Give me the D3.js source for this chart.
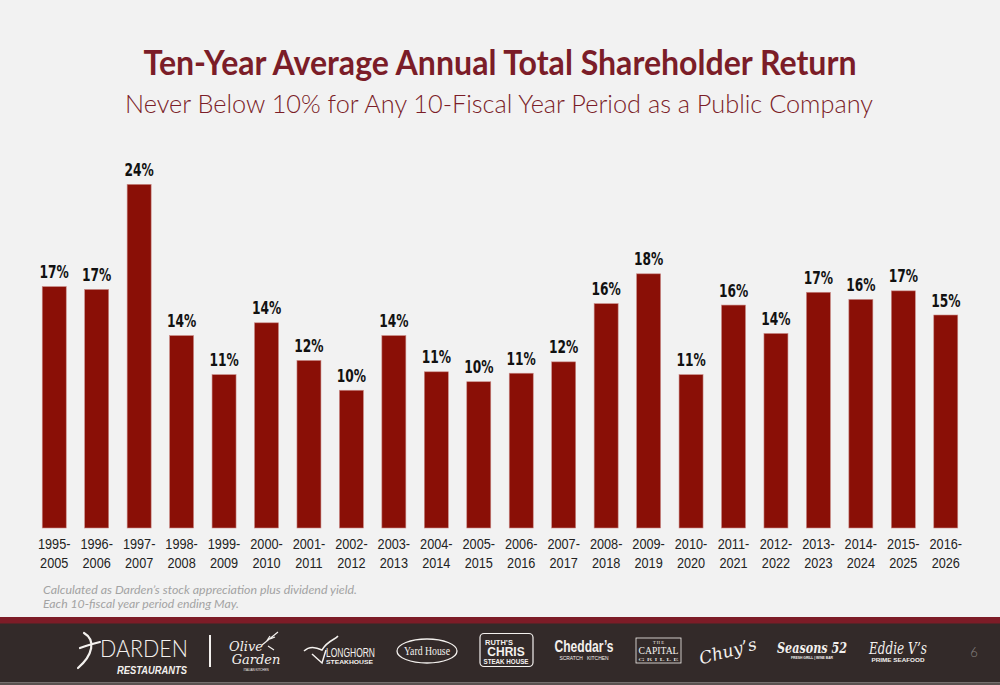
<!DOCTYPE html>
<html>
<head>
<meta charset="utf-8">
<script src="https://cdn.jsdelivr.net/npm/d3@7"></script>
<style>
  html, body { margin: 0; padding: 0; background: #f2f2f2; }
  svg { display: block; }
</style>
</head>
<body>
<svg id="chart" width="1000" height="685"></svg>
<script>
// ---- data ----
const periods = ["1995-2005","1996-2006","1997-2007","1998-2008","1999-2009","2000-2010","2001-2011","2002-2012","2003-2013","2004-2014","2005-2015","2006-2016","2007-2017","2008-2018","2009-2019","2010-2020","2011-2021","2012-2022","2013-2023","2014-2024","2015-2025","2016-2026"];
const returns = [17.0, 16.8, 24.2, 13.55, 10.8, 14.45, 11.8, 9.7, 13.55, 11.0, 10.3, 10.9, 11.7, 15.8, 17.9, 10.8, 15.7, 13.7, 16.6, 16.1, 16.7, 15.0];
const returnLabels = ["17%","17%","24%","14%","11%","14%","12%","10%","14%","11%","10%","11%","12%","16%","18%","11%","16%","14%","17%","16%","17%","15%"];
const titleText = "Ten-Year Average Annual Total Shareholder Return";
const subtitleText = "Never Below 10% for Any 10-Fiscal Year Period as a Public Company";
const footnotes = ["Calculated as Darden\u2019s stock appreciation plus dividend yield.", "Each 10-fiscal year period ending May."];

const W = 1000, H = 685;
const maroon = "#7b1d28";
const barColor = "#8a0f06";
const svg = d3.select("#chart");

svg.append("rect").attr("width", W).attr("height", H).attr("fill", "#f2f2f2");

// titles
svg.append("text").attr("x", 500).attr("y", 75).attr("text-anchor", "middle")
  .attr("font-family", "Lato, 'Open Sans', sans-serif").attr("font-weight", "bold")
  .attr("font-size", 34).attr("fill", maroon)
  .attr("textLength", 713).attr("lengthAdjust", "spacingAndGlyphs")
  .text(titleText);
svg.append("text").attr("x", 499).attr("y", 112.7).attr("text-anchor", "middle")
  .attr("font-family", "Lato, 'Open Sans', sans-serif").attr("font-weight", 300)
  .attr("font-size", 25).attr("fill", maroon)
  .attr("textLength", 748).attr("lengthAdjust", "spacingAndGlyphs")
  .text(subtitleText);

// scales
const x = d3.scaleBand().domain(periods).range([33, 967]).paddingInner(0.435).paddingOuter(0.2175);
const y = d3.scaleLinear().domain([0, 25]).range([528, 528 - 25 * 14.2]);

const data = periods.map((p, i) => ({ p, v: returns[i], l: returnLabels[i] }));

svg.append("g").selectAll("rect").data(data).join("rect")
  .attr("x", d => x(d.p)).attr("width", x.bandwidth())
  .attr("y", d => y(d.v)).attr("height", d => y(0) - y(d.v))
  .attr("fill", barColor).attr("stroke", "#c98a86").attr("stroke-width", 0.6);

svg.append("g").selectAll("text").data(data).join("text")
  .attr("transform", d => `translate(${x(d.p) + x.bandwidth() / 2},${y(d.v) - 8.5}) scale(0.8,1)`)
  .attr("text-anchor", "middle")
  .attr("font-family", "'Liberation Sans Narrow', 'DejaVu Sans Condensed', 'Liberation Sans', sans-serif")
  .attr("font-weight", "bold").attr("font-size", 17).attr("fill", "#111")
  .text(d => d.l);

// x axis
const xAxis = d3.axisBottom(x).tickSize(0).tickPadding(0).tickFormat(() => "");
const gx = svg.append("g").attr("transform", "translate(0,528)").call(xAxis);
gx.select(".domain").remove();
gx.selectAll(".tick text").remove();
gx.selectAll(".tick").each(function(d) {
  const parts = d.split("-");
  const t = d3.select(this).append("text")
    .attr("text-anchor", "middle").attr("fill", "#222")
    .attr("font-family", "'Liberation Sans', sans-serif")
    .attr("font-size", 15.5)
    .attr("transform", "scale(0.82,1)");
  t.append("tspan").attr("x", 0).attr("y", 21.3).text(parts[0] + "-");
  t.append("tspan").attr("x", 0).attr("y", 39.7).text(parts[1]);
});

// footnotes
svg.append("g").selectAll("text").data(footnotes).join("text")
  .attr("x", 43).attr("y", (d, i) => 594 + i * 14)
  .attr("font-family", "Lato, 'Open Sans', sans-serif").attr("font-style", "italic")
  .attr("font-size", 12).attr("fill", "#a3a3a3")
  .attr("textLength", (d, i) => i === 0 ? 314 : 196).attr("lengthAdjust", "spacingAndGlyphs")
  .text(d => d);

// footer
const footer = svg.append("g");
footer.append("rect").attr("x", 0).attr("y", 617).attr("width", W).attr("height", 7).attr("fill", "#7d1c27");
footer.append("rect").attr("x", 0).attr("y", 623.5).attr("width", W).attr("height", 59).attr("fill", "#332a29");
footer.append("rect").attr("x", 0).attr("y", 682.5).attr("width", W).attr("height", 3).attr("fill", "#5a5250");

const white = "#f4f1ee";
// Darden swoosh
footer.append("path").attr("d", "M84,633 C96,640 93,655 78,668 M80,648 C88,645 96,643 100,642")
  .attr("fill", "none").attr("stroke", white).attr("stroke-width", 2.2).attr("stroke-linecap", "round");
footer.append("text").attr("x", 100).attr("y", 657).attr("font-family", "Lato, sans-serif").attr("font-weight", 300)
  .attr("font-size", 24).attr("fill", white).attr("textLength", 88).attr("lengthAdjust", "spacingAndGlyphs").text("DARDEN");
footer.append("text").attr("x", 117).attr("y", 673.5).attr("font-family", "'Liberation Sans', sans-serif").attr("font-weight", "bold")
  .attr("font-style", "italic").attr("font-size", 10.5).attr("fill", white).attr("textLength", 70).attr("lengthAdjust", "spacingAndGlyphs").text("RESTAURANTS");
footer.append("line").attr("x1", 210).attr("x2", 210).attr("y1", 635).attr("y2", 667).attr("stroke", white).attr("stroke-width", 2);

// Olive Garden
footer.append("text").attr("x", 246).attr("y", 651).attr("text-anchor", "middle").attr("font-family", "'DejaVu Serif', serif")
  .attr("font-style", "italic").attr("font-size", 13).attr("fill", white).text("Olive");
footer.append("text").attr("x", 256).attr("y", 664).attr("text-anchor", "middle").attr("font-family", "'DejaVu Serif', serif")
  .attr("font-style", "italic").attr("font-size", 13).attr("fill", white).text("Garden");
footer.append("text").attr("x", 256).attr("y", 671).attr("text-anchor", "middle").attr("font-family", "sans-serif")
  .attr("font-size", 3).attr("fill", white).text("ITALIAN KITCHEN");
footer.append("path").attr("d", "M262,645 L278,632 M266,642 l4,-6 M270,639 l5,-2 M268,646 l6,4")
  .attr("fill", "none").attr("stroke", white).attr("stroke-width", 1.2);

// LongHorn
footer.append("path").attr("d", "M304,651 C310,645 318,648 322,650 C328,640 335,640 338,636 M312,654 L322,663 L326,650")
  .attr("fill", "none").attr("stroke", white).attr("stroke-width", 1.5);
footer.append("text").attr("x", 326).attr("y", 657).attr("font-family", "'Liberation Sans Narrow', 'Liberation Sans', sans-serif")
  .attr("font-size", 12).attr("fill", white).attr("textLength", 49).attr("lengthAdjust", "spacingAndGlyphs").text("LONGHORN");
footer.append("text").attr("x", 326).attr("y", 664).attr("font-family", "'Liberation Sans', sans-serif").attr("font-weight", "bold")
  .attr("font-size", 5.5).attr("fill", white).attr("textLength", 47).attr("lengthAdjust", "spacingAndGlyphs").text("STEAKHOUSE");

// Yard House
footer.append("ellipse").attr("cx", 427).attr("cy", 651).attr("rx", 30).attr("ry", 12)
  .attr("fill", "none").attr("stroke", white).attr("stroke-width", 1.3);
footer.append("text").attr("x", 427).attr("y", 655).attr("text-anchor", "middle").attr("font-family", "'Liberation Serif', serif")
  .attr("font-size", 12).attr("fill", white).attr("textLength", 46).attr("lengthAdjust", "spacingAndGlyphs").text("Yard House");

// Ruth's Chris
footer.append("rect").attr("x", 480).attr("y", 633.5).attr("width", 53).attr("height", 33).attr("rx", 4)
  .attr("fill", "none").attr("stroke", white).attr("stroke-width", 1.2);
footer.append("text").attr("x", 485).attr("y", 645).attr("font-family", "'Liberation Sans', sans-serif").attr("font-weight", "bold")
  .attr("font-size", 7.5).attr("fill", white).text("RUTH\u2019S");
footer.append("text").attr("x", 506).attr("y", 656).attr("text-anchor", "middle").attr("font-family", "'Liberation Sans', sans-serif").attr("font-weight", "bold")
  .attr("font-size", 12).attr("fill", white).text("CHRIS");
footer.append("text").attr("x", 506).attr("y", 664).attr("text-anchor", "middle").attr("font-family", "'Liberation Sans', sans-serif").attr("font-weight", "bold")
  .attr("font-size", 7).attr("fill", white).attr("textLength", 45).attr("lengthAdjust", "spacingAndGlyphs").text("STEAK HOUSE");

// Cheddar's
footer.append("text").attr("x", 584).attr("y", 652).attr("text-anchor", "middle").attr("font-family", "'Liberation Sans', sans-serif").attr("font-weight", "bold")
  .attr("font-size", 17).attr("fill", white).attr("textLength", 59).attr("lengthAdjust", "spacingAndGlyphs").text("Cheddar\u2019s");
footer.append("text").attr("x", 584).attr("y", 659.5).attr("text-anchor", "middle").attr("font-family", "'Liberation Sans Narrow', sans-serif")
  .attr("font-size", 5).attr("fill", white).attr("textLength", 49).attr("lengthAdjust", "spacingAndGlyphs").text("SCRATCH \u00a0 KITCHEN");

// Capital Grille
footer.append("rect").attr("x", 636).attr("y", 638).attr("width", 45).attr("height", 25)
  .attr("fill", "none").attr("stroke", white).attr("stroke-width", 0.8);
footer.append("text").attr("x", 658.5).attr("y", 644).attr("text-anchor", "middle").attr("font-family", "'Liberation Serif', serif")
  .attr("font-size", 4.5).attr("fill", white).text("T H E");
footer.append("text").attr("x", 658.5).attr("y", 654).attr("text-anchor", "middle").attr("font-family", "'Liberation Serif', serif")
  .attr("font-size", 10).attr("fill", white).attr("textLength", 40).attr("lengthAdjust", "spacingAndGlyphs").text("CAPITAL");
footer.append("text").attr("x", 658.5).attr("y", 661).attr("text-anchor", "middle").attr("font-family", "'Liberation Serif', serif")
  .attr("font-size", 4.5).attr("fill", white).attr("textLength", 40).attr("lengthAdjust", "spacingAndGlyphs").text("G R I L L E");

// Chuy's
footer.append("text").attr("x", 728).attr("y", 657).attr("text-anchor", "middle").attr("font-family", "'DejaVu Serif', serif")
  .attr("font-style", "italic").attr("font-size", 17).attr("fill", white)
  .attr("transform", "rotate(-15,728,652)").text("Chuy\u2019s");

// Seasons 52
footer.append("text").attr("x", 812).attr("y", 653).attr("text-anchor", "middle").attr("font-family", "'DejaVu Serif', serif")
  .attr("font-style", "italic").attr("font-weight", "bold").attr("font-size", 14).attr("fill", white)
  .attr("textLength", 70).attr("lengthAdjust", "spacingAndGlyphs").text("Seasons 52");
footer.append("text").attr("x", 812).attr("y", 659).attr("text-anchor", "middle").attr("font-family", "'Liberation Sans', sans-serif").attr("font-weight", "bold")
  .attr("font-size", 3.5).attr("fill", white).attr("textLength", 42).attr("lengthAdjust", "spacingAndGlyphs").text("FRESH GRILL | WINE BAR");

// Eddie V's
footer.append("text").attr("x", 898).attr("y", 654).attr("text-anchor", "middle").attr("font-family", "'DejaVu Serif', serif")
  .attr("font-style", "italic").attr("font-size", 16).attr("fill", white)
  .attr("textLength", 58).attr("lengthAdjust", "spacingAndGlyphs").text("Eddie V\u2019s");
footer.append("text").attr("x", 898).attr("y", 662).attr("text-anchor", "middle").attr("font-family", "'Liberation Sans', sans-serif").attr("font-weight", "bold")
  .attr("font-size", 4.5).attr("fill", white).attr("textLength", 53).attr("lengthAdjust", "spacingAndGlyphs").text("PRIME SEAFOOD");

// page number
footer.append("text").attr("x", 974).attr("y", 657).attr("text-anchor", "middle").attr("font-family", "Lato, sans-serif")
  .attr("font-weight", 300).attr("font-size", 13).attr("fill", "#8a8583").text("6");
</script>
</body>
</html>
